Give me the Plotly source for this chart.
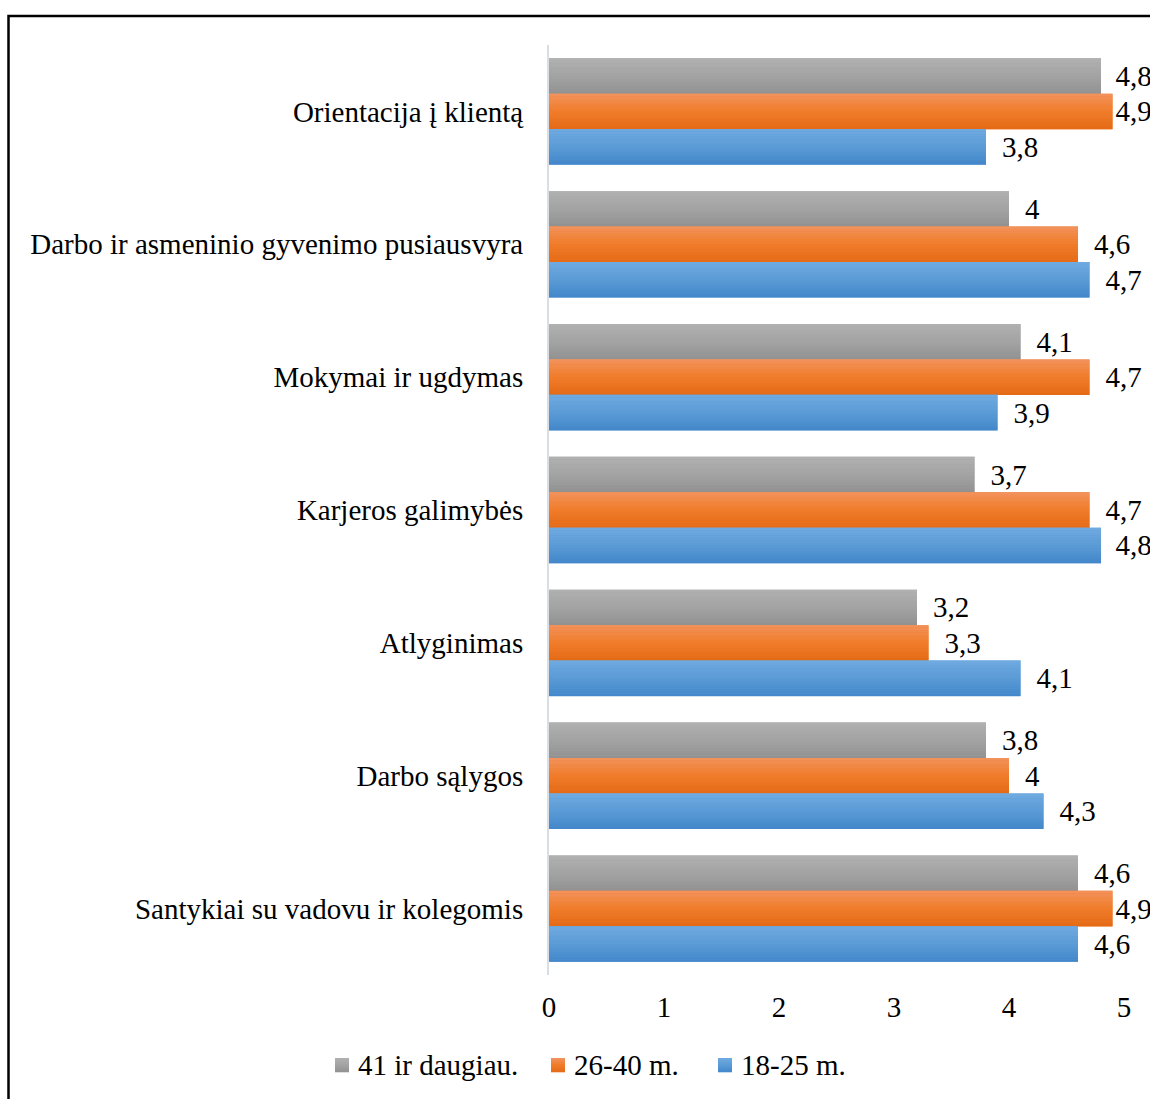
import plotly.graph_objects as go

# Categories listed top to bottom
categories = [
    "Orientacija į klientą",
    "Darbo ir asmeninio gyvenimo pusiausvyra",
    "Mokymai ir ugdymas",
    "Karjeros galimybės",
    "Atlyginimas",
    "Darbo sąlygos",
    "Santykiai su vadovu ir kolegomis",
]
series_names = ["41 ir daugiau.", "26-40 m.", "18-25 m."]
values_41_plus = [4.8, 4.0, 4.1, 3.7, 3.2, 3.8, 4.6]
values_26_40 = [4.9, 4.6, 4.7, 4.7, 3.3, 4.0, 4.9]
values_18_25 = [3.8, 4.7, 3.9, 4.8, 4.1, 4.3, 4.6]
x_ticks = [0, 1, 2, 3, 4, 5]

series_values = [values_41_plus, values_26_40, values_18_25]

# Vertical gradient stops (top, middle, bottom) for each series
gradients = [
    [(177, 177, 177), (163, 163, 163), (145, 145, 145)],
    [(242, 147, 94), (240, 124, 42), (228, 106, 22)],
    [(112, 170, 225), (91, 155, 214), (66, 135, 202)],
]

FONT = "Liberation Serif"
FS = 29
W, H = 1150, 1099
M_L, M_R, M_T, M_B = 549, 26, 45, 124
PLOT_W = W - M_L - M_R
PLOT_H = H - M_T - M_B
GROUP = 0.8
BAR_W = GROUP / 3
N_STRIPES = 14

THIN = "\u2009"


def px_x(px):
    return (px - M_L) / PLOT_W


def px_y(py):
    return (H - M_B - py) / PLOT_H


def lerp_color(stops, t):
    if t <= 0.5:
        a, b, u = stops[0], stops[1], t / 0.5
    else:
        a, b, u = stops[1], stops[2], (t - 0.5) / 0.5
    r, g, bl = (round(a[i] + (b[i] - a[i]) * u) for i in range(3))
    return f"rgb({r},{g},{bl})"


def label(v):
    # value labels sit a little right of the bar; near the right edge they
    # are pulled in so they stay inside the chart frame
    s = f"{v:g}".replace(".", ",")
    if v >= 4.85:
        pad = ""
    elif v >= 4.75:
        pad = THIN + THIN
    else:
        pad = " " + THIN
    return pad + s


fig = go.Figure()

for i, (name, vals, stops) in enumerate(zip(series_names, series_values, gradients)):
    base_off = -GROUP / 2 + i * BAR_W
    # Base bar carries the value label
    fig.add_trace(go.Bar(
        name=name,
        y=categories,
        x=vals,
        orientation="h",
        offset=base_off,
        width=BAR_W,
        marker=dict(color=lerp_color(stops, 0.5), line=dict(width=0)),
        text=[label(v) for v in vals],
        textposition="outside",
        textfont=dict(family=FONT, size=FS, color="#000000"),
        constraintext="none",
        cliponaxis=False,
        showlegend=False,
        hoverinfo="skip",
    ))
    # Thin overlapping stripes give the bar its vertical gradient
    sw = BAR_W / N_STRIPES
    for k in range(N_STRIPES):
        fig.add_trace(go.Bar(
            y=categories,
            x=vals,
            orientation="h",
            offset=base_off + k * sw,
            width=sw * 1.05,
            marker=dict(color=lerp_color(stops, (k + 0.5) / N_STRIPES), line=dict(width=0)),
            showlegend=False,
            hoverinfo="skip",
        ))

# Legend drawn as small gradient squares with text beside them
shapes = []
annotations = []
legend_x = [335, 551, 718]
legend_cy = 1065
SQ = 14
for name, stops, lx in zip(series_names, gradients, legend_x):
    n = 7
    for k in range(n):
        y_top = legend_cy - SQ / 2 + k * SQ / n
        shapes.append(dict(
            type="rect", xref="paper", yref="paper",
            x0=px_x(lx), x1=px_x(lx + SQ),
            y0=px_y(y_top + SQ / n + 0.3), y1=px_y(y_top),
            line=dict(width=0),
            fillcolor=lerp_color(stops, (k + 0.5) / n),
        ))
    annotations.append(dict(
        xref="paper", yref="paper",
        x=px_x(lx + SQ + 7), y=px_y(legend_cy),
        xanchor="left", yanchor="middle",
        text=name, showarrow=False,
        font=dict(family=FONT, size=FS, color="#000000"),
    ))

# Outer chart frame
shapes.append(dict(
    type="rect", xref="paper", yref="paper",
    x0=px_x(8.5), x1=px_x(1160),
    y0=px_y(1110), y1=px_y(16),
    line=dict(color="#000000", width=2.5),
    fillcolor="rgba(0,0,0,0)",
    layer="above",
))

fig.update_layout(
    width=W,
    height=H,
    barmode="overlay",
    showlegend=False,
    paper_bgcolor="white",
    plot_bgcolor="white",
    margin=dict(l=M_L, r=M_R, t=M_T, b=M_B),
    font=dict(family=FONT, size=FS, color="#000000"),
    xaxis=dict(
        range=[0, 5],
        tickvals=x_ticks,
        ticktext=[str(t) for t in x_ticks],
        showgrid=False,
        zeroline=False,
        showline=False,
        ticks="",
        ticklabelstandoff=12,
        tickfont=dict(family=FONT, size=FS, color="#000000"),
    ),
    yaxis=dict(
        type="category",
        categoryorder="array",
        categoryarray=categories,
        autorange="reversed",
        showgrid=False,
        zeroline=False,
        showline=True,
        linecolor="#D9DEE4",
        linewidth=2,
        ticks="",
        ticklabelstandoff=18,
        tickfont=dict(family=FONT, size=FS, color="#000000"),
    ),
    shapes=shapes,
    annotations=annotations,
)

fig.write_html("out.html")
